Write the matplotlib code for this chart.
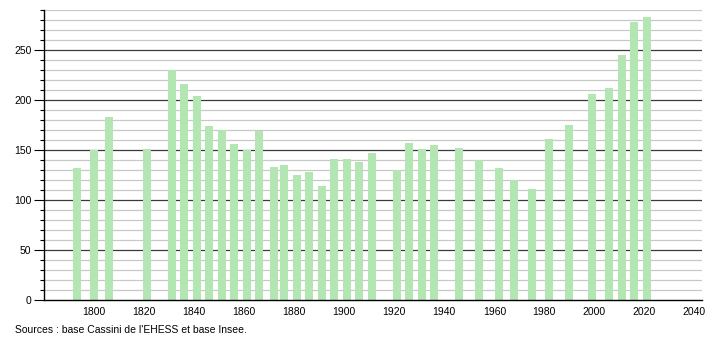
import matplotlib
matplotlib.use('Agg')
import matplotlib.pyplot as plt
import matplotlib.ticker as mticker

years = [1793, 1800, 1806, 1821, 1831, 1836, 1841, 1846, 1851, 1856, 1861, 1866,
         1872, 1876, 1881, 1886, 1891, 1896, 1901, 1906, 1911, 1921, 1926, 1931,
         1936, 1946, 1954, 1962, 1968, 1975, 1982, 1990, 1999, 2006, 2011, 2016, 2021]
population = [132, 150, 183, 151, 230, 216, 204, 174, 170, 156, 150, 169,
              133, 135, 125, 128, 114, 141, 141, 138, 147, 130, 157, 151,
              155, 152, 140, 132, 120, 111, 161, 175, 206, 212, 245, 278, 283]
x_ticks = list(range(1800, 2041, 20))
y_ticks = list(range(0, 251, 50))

plt.rcParams['font.family'] = ['Liberation Sans', 'DejaVu Sans']

fig = plt.figure(figsize=(7.1, 3.4), dpi=100)
ax = fig.add_axes([44 / 710, 40 / 340, 658 / 710, 290 / 340])

# grid: light every 10, dark every 50
for v in range(10, 291, 10):
    if v % 50 == 0:
        ax.axhline(v, color='#3a3a3a', linewidth=0.9, zorder=1)
    else:
        ax.axhline(v, color='#c8c8c8', linewidth=0.9, zorder=1)

ax.bar(years, population, width=3.2, color='#b3e6b3', zorder=2)

ax.set_xlim(1780, 2043)
ax.set_ylim(0, 290)
ax.set_xticks(x_ticks)
ax.set_yticks(y_ticks)
ax.yaxis.set_minor_locator(mticker.MultipleLocator(10))
ax.tick_params(axis='x', length=0, labelsize=7.5, pad=5)
ax.tick_params(axis='y', which='major', length=7, width=0.8, labelsize=7.5, pad=2)
ax.tick_params(axis='y', which='minor', length=3, width=0.8)

for s in ['top', 'right']:
    ax.spines[s].set_visible(False)
ax.spines['left'].set_linewidth(1)
ax.spines['bottom'].set_linewidth(1)

fig.text(15 / 710, 1 - 330 / 340, "Sources : base Cassini de l'EHESS et base Insee.",
         fontsize=7.5, va='center', ha='left')

fig.savefig('out.png', dpi=100, facecolor='white')
plt.close()
